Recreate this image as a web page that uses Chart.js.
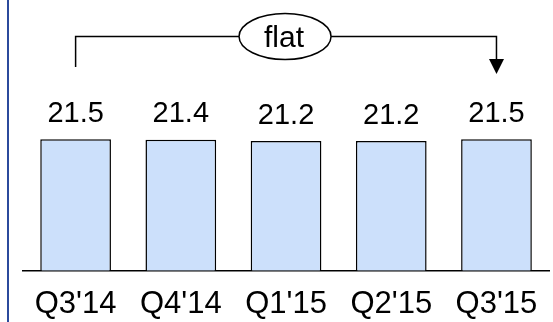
<!DOCTYPE html>
<html>
<head>
<meta charset="utf-8">
<script src="https://cdn.jsdelivr.net/npm/chart.js@4.4.1/dist/chart.umd.min.js"></script>
<style>
  html, body { margin: 0; padding: 0; background: #fff; }
  #wrap { position: relative; width: 553px; height: 322px; }
  #edge { position: absolute; left: 6.5px; top: 0; width: 2px; height: 322px; background: #2b4a9c; }
</style>
</head>
<body>
<div id="wrap">
  <div id="edge"></div>
  <canvas id="chart"></canvas>
</div>
<script>
const quarters = ["Q3'14", "Q4'14", "Q1'15", "Q2'15", "Q3'15"];
const values = [21.5, 21.4, 21.2, 21.2, 21.5];
const trendText = "flat";

const FONT = "'Liberation Sans', Arial, sans-serif";

// value labels above each bar
const valueLabels = {
  id: "valueLabels",
  afterDatasetsDraw(chart) {
    const ctx = chart.ctx;
    const meta = chart.getDatasetMeta(0);
    ctx.save();
    ctx.font = "29px " + FONT;
    ctx.fillStyle = "#000";
    ctx.textAlign = "center";
    ctx.textBaseline = "alphabetic";
    meta.data.forEach((bar, i) => {
      ctx.fillText(values[i].toFixed(1), bar.x, bar.y - 17.5);
    });
    ctx.restore();
  }
};

// bracket from first to last quarter with the "flat" bubble
const trendBracket = {
  id: "trendBracket",
  afterDraw(chart) {
    const ctx = chart.ctx;
    const x = chart.scales.x;
    const x0 = x.getPixelForValue(0);
    const x1 = x.getPixelForValue(quarters.length - 1);
    const cx = (x0 + x1) / 2 - 1;
    const y = 36.5;
    const rx = 46, ry = 23;

    ctx.save();
    ctx.strokeStyle = "#000";
    ctx.fillStyle = "#000";
    ctx.lineWidth = 1.5;

    ctx.beginPath();
    ctx.moveTo(x0, 67);
    ctx.lineTo(x0, y);
    ctx.lineTo(cx - rx, y);
    ctx.moveTo(cx + rx, y);
    ctx.lineTo(x1, y);
    ctx.lineTo(x1, 60);
    ctx.stroke();

    // arrow head
    ctx.beginPath();
    ctx.moveTo(x1 - 7.5, 59);
    ctx.lineTo(x1 + 7.5, 59);
    ctx.lineTo(x1, 74);
    ctx.closePath();
    ctx.fill();

    ctx.beginPath();
    ctx.ellipse(cx, y, rx, ry, 0, 0, Math.PI * 2);
    ctx.fillStyle = "#fff";
    ctx.fill();
    ctx.stroke();

    ctx.fillStyle = "#000";
    ctx.font = "30px " + FONT;
    ctx.textAlign = "center";
    ctx.textBaseline = "alphabetic";
    ctx.fillText(trendText, cx - 1, 46.5);
    ctx.restore();
  }
};

new Chart(document.getElementById("chart"), {
  type: "bar",
  data: {
    labels: quarters,
    datasets: [
      {
        data: values,
        backgroundColor: "#cce0fb",
        borderColor: "#000",
        borderWidth: 1.5,
        categoryPercentage: 1,
        barPercentage: 0.672,
      },
    ],
  },
  options: {
    responsive: true,
    maintainAspectRatio: false,
    animation: false,
    layout: { padding: { left: 23, right: 1.5, top: 26, bottom: -17 } },
    plugins: {
      legend: { display: false },
      tooltip: { enabled: false },
    },
    scales: {
      y: {
        display: false,
        min: 0,
        max: 40,
      },
      x: {
        grid: { display: false, drawTicks: false },
        border: { display: true, color: "#000", width: 1.5 },
        ticks: {
          color: "#000",
          padding: 15.5,
          font: { family: FONT, size: 31 },
          maxRotation: 0,
        },
      },
    },
  },
  plugins: [valueLabels, trendBracket],
});
</script>
</body>
</html>
